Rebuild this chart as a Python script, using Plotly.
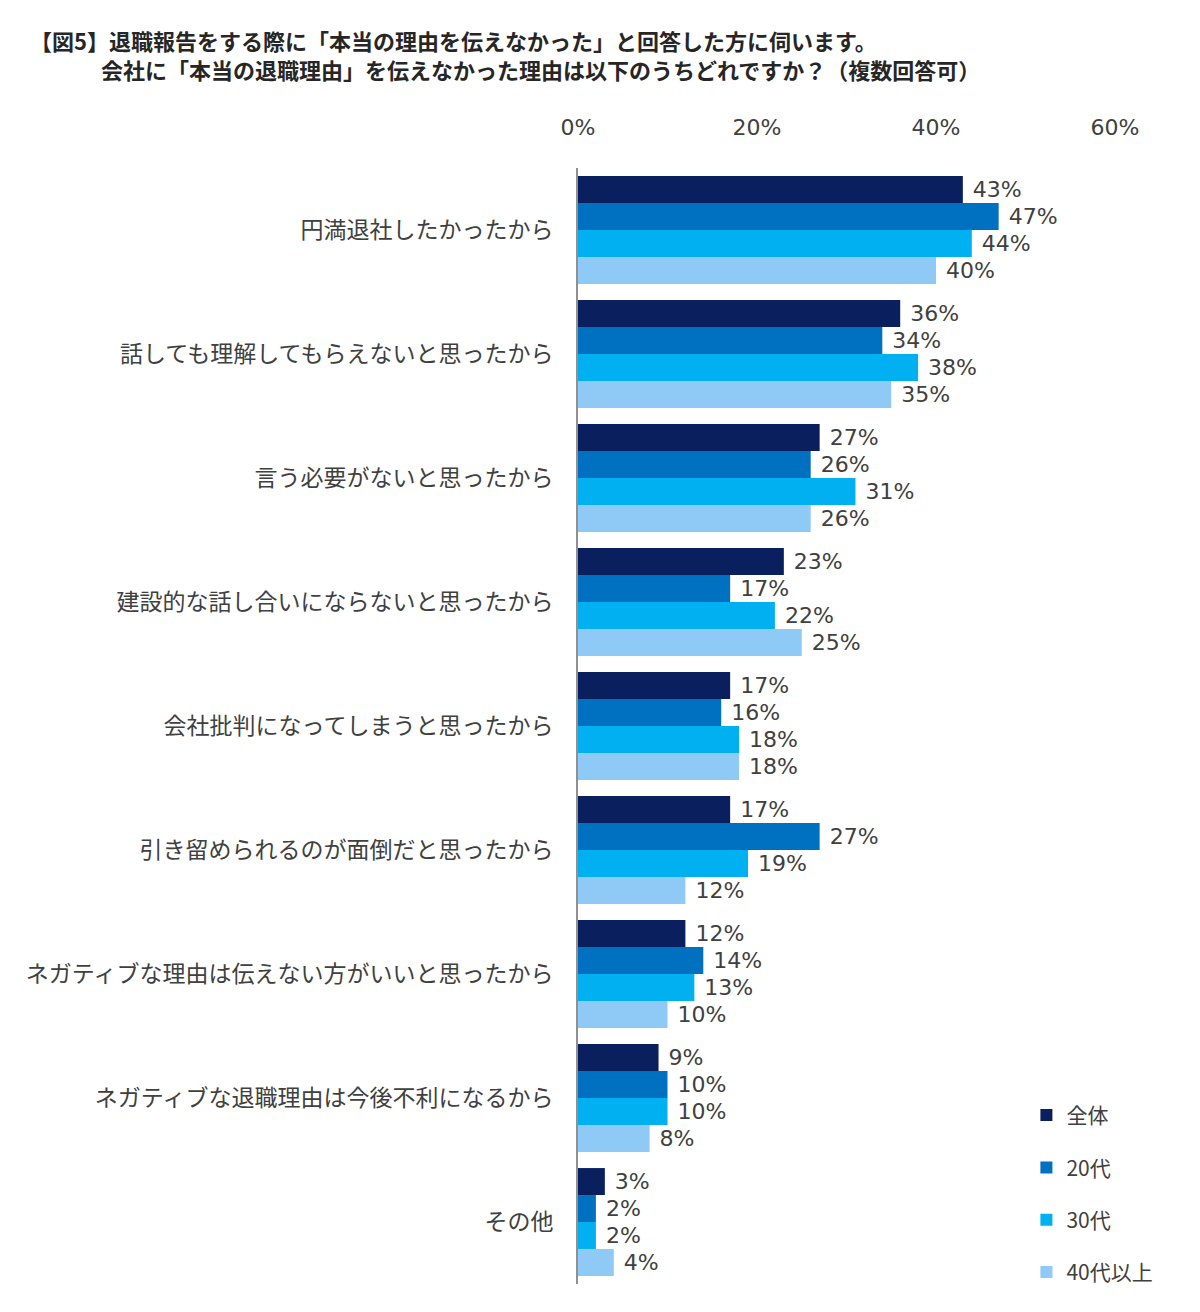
import plotly.graph_objects as go

categories = [
    "円満退社したかったから",
    "話しても理解してもらえないと思ったから",
    "言う必要がないと思ったから",
    "建設的な話し合いにならないと思ったから",
    "会社批判になってしまうと思ったから",
    "引き留められるのが面倒だと思ったから",
    "ネガティブな理由は伝えない方がいいと思ったから",
    "ネガティブな退職理由は今後不利になるから",
    "その他",
]
series_names = ["全体", "20代", "30代", "40代以上"]
zentai = [43, 36, 27, 23, 17, 17, 12, 9, 3]
dai20 = [47, 34, 26, 17, 16, 27, 14, 10, 2]
dai30 = [44, 38, 31, 22, 18, 19, 13, 10, 2]
dai40 = [40, 35, 26, 25, 18, 12, 10, 8, 4]
series_values = [zentai, dai20, dai30, dai40]
colors = ["#0a1f5e", "#0070c0", "#00b0f0", "#8ecaf5"]
tick_vals = [0, 20, 40, 60]
tick_text = ["0%", "20%", "40%", "60%"]

title_line1 = "【図5】退職報告をする際に「本当の理由を伝えなかった」と回答した方に伺います。"
title_line2 = "会社に「本当の退職理由」を伝えなかった理由は以下のうちどれですか？（複数回答可）"

FONT = "Verdana, 'DejaVu Sans', 'Noto Sans CJK JP', sans-serif"
JFONT = "'Noto Sans CJK JP', 'DejaVu Sans', sans-serif"

fig = go.Figure()
for name, vals, col in zip(series_names, series_values, colors):
    fig.add_trace(go.Bar(
        y=categories, x=vals, name=name, orientation="h",
        marker=dict(color=col, line=dict(width=0)),
        text=[f"\u00a0{v}%" for v in vals],
        textposition="outside", cliponaxis=False, constraintext="none",
        textfont=dict(family=FONT, size=22, color="#404040"),
        legendgroup=name,
    ))

W, H = 1200, 1312
pl, pr, pt, pb = 578, 85, 168, 28
pw, ph = W - pl - pr, H - pt - pb

title_text = ("<b>" + title_line1 + "</b><br>"
              + "\u3000\u3000\u3000\u00a0<b>" + title_line2 + "</b>")
anns = [dict(text=title_text, xref="paper", yref="paper",
             x=(28 - pl) / pw, y=1 - (54 - pt) / ph,
             xanchor="left", yanchor="middle", align="left", showarrow=False,
             font=dict(family=JFONT, size=22, color="#262626"))]

fig.update_layout(
    width=W, height=H,
    margin=dict(l=pl, r=pr, t=pt, b=pb),
    paper_bgcolor="white", plot_bgcolor="white",
    barmode="group", bargap=0.13, bargroupgap=0,
    showlegend=True,
    legend=dict(x=0.835, y=-0.008, xanchor="left", yanchor="bottom",
                font=dict(family=JFONT, size=21, color="#404040"),
                tracegroupgap=22, traceorder="grouped", bgcolor="rgba(0,0,0,0)"),
    xaxis=dict(side="top", range=[0, 60], tickvals=tick_vals, ticktext=tick_text,
               showgrid=False, zeroline=False, showline=False, ticks="",
               tickfont=dict(family=FONT, size=22, color="#404040"),
               ticklabelstandoff=28),
    yaxis=dict(autorange="reversed", showgrid=False, zeroline=False,
               showline=True, linecolor="#909090", linewidth=2, ticks="",
               tickfont=dict(family=JFONT, size=23, color="#404040"),
               ticklabelstandoff=18),
    annotations=anns,
)

fig.write_html("out.html")
